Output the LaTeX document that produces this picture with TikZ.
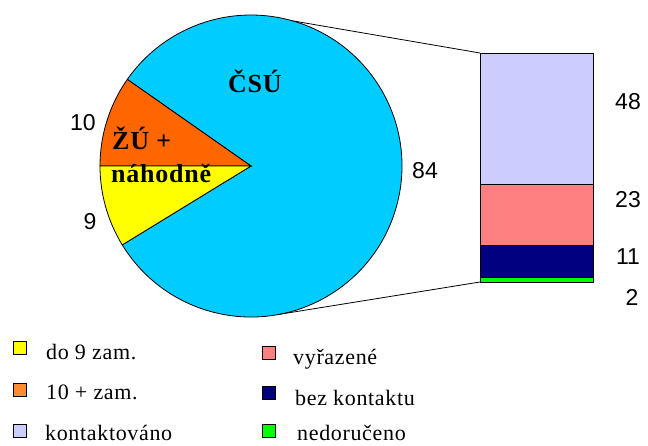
\documentclass[tikz,border=0pt]{standalone}
\usepackage{fontspec}
\usetikzlibrary{calc}
\setmainfont{Liberation Serif}
\newfontfamily\numfont{Liberation Sans}
\newfontfamily\labfont[LetterSpace=3]{Liberation Serif}
\newfontfamily\legfont[LetterSpace=3]{Liberation Serif}
\definecolor{pieblue}{RGB}{0,204,255}
\definecolor{pieorange}{RGB}{255,102,0}
\definecolor{pieyellow}{RGB}{255,255,0}
\definecolor{legorange}{RGB}{255,140,51}
\definecolor{barlav}{RGB}{204,204,255}
\definecolor{barsalmon}{RGB}{255,128,128}
\definecolor{barnavy}{RGB}{0,0,128}
\definecolor{bargreen}{RGB}{0,255,0}
\begin{document}
\begin{tikzpicture}[x=1pt,y=-1pt,
  slice/.style={draw=black,line width=0.8pt},
  barseg/.style={draw=black,line width=1pt},
  numlab/.style={font=\numfont\fontsize{23}{26}\selectfont,inner sep=0pt},
  pielab/.style={font=\labfont\bfseries\fontsize{26}{28}\selectfont,inner sep=0pt,anchor=base west},
  legsq/.style={draw=black,line width=0.8pt,minimum size=13pt,inner sep=0pt},
  legtxt/.style={font=\legfont\fontsize{22}{24}\selectfont,anchor=base west,inner sep=0pt}]
\useasboundingbox (0,0) rectangle (648,445);
% pie
\coordinate (c) at (251,166);
\filldraw[slice,fill=pieblue] (c) -- ++(148.5:151) arc[start angle=148.5,end angle=-145,radius=151] -- cycle;
\filldraw[slice,fill=pieorange] (c) -- ++(-145:151) arc[start angle=-145,end angle=-180,radius=151] -- cycle;
\filldraw[slice,fill=pieyellow] (c) -- ++(-180:151) arc[start angle=-180,end angle=-211.5,radius=151] -- cycle;
% bar
\filldraw[barseg,fill=barlav] (480,53) rectangle (593,184);
\filldraw[barseg,fill=barsalmon] (480,184) rectangle (593,245);
\filldraw[barseg,fill=barnavy] (480,245) rectangle (593,277);
\filldraw[barseg,fill=bargreen] (480,277) rectangle (593,282);
% connectors
\coordinate (ptop) at ($(c)+(-74:151)$);
\coordinate (pbot) at ($(c)+(79:151)$);
\coordinate (btop) at (480,53);
\coordinate (bbot) at (480,282);
\draw[line width=0.8pt] (ptop) -- (btop);
\draw[line width=0.8pt] (pbot) -- (bbot);
% pie labels
\node[pielab] (csu) at (228,92) {ČSÚ};
\node[pielab] (zu1) at (112,149) {ŽÚ +};
\node[pielab] (zu2) at (111,182) {náhodně};
\node[numlab] (n10) at (83,123) {10};
\node[numlab] (n9) at (90,222) {9};
\node[numlab] (n84) at (425,171) {84};
% bar labels
\node[numlab] (n48) at (628,102) {48};
\node[numlab] (n23) at (628,200) {23};
\node[numlab] (n11) at (628,257) {11};
\node[numlab] (n2) at (632,297) {2};
% legend
\node[legsq,fill=pieyellow] (s1) at (20,348) {};
\node[legtxt] (t1) at (46,359) {do 9 zam.};
\node[legsq,fill=legorange] (s2) at (20,390) {};
\node[legtxt] (t2) at (46,399) {10 + zam.};
\node[legsq,fill=barlav] (s3) at (20,431) {};
\node[legtxt] (t3) at (45,440) {kontaktováno};
\node[legsq,fill=barsalmon] (s4) at (269,353) {};
\node[legtxt] (t4) at (293,364) {vyřazené};
\node[legsq,fill=barnavy] (s5) at (269,393) {};
\node[legtxt] (t5) at (295,405) {bez kontaktu};
\node[legsq,fill=bargreen] (s6) at (269,431) {};
\node[legtxt] (t6) at (297,440) {nedoručeno};
\end{tikzpicture}
\end{document}
